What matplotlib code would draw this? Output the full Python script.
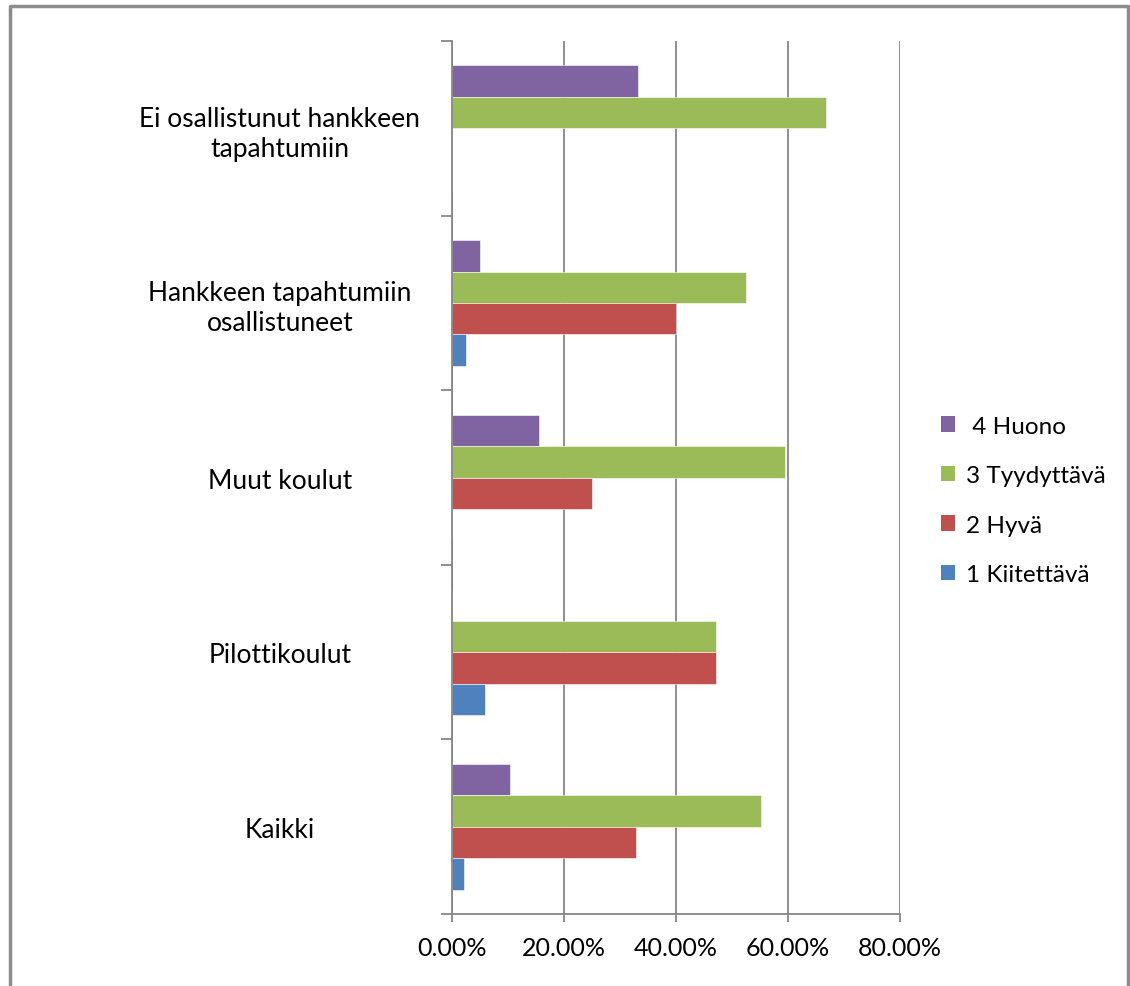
import numpy as np
import matplotlib.pyplot as plt
from matplotlib.patches import Patch

plt.rcParams['font.family'] = ['Lato', 'DejaVu Sans']

# Categories, from bottom to top
categories = ['Kaikki', 'Pilottikoulut', 'Muut koulut',
              'Hankkeen tapahtumiin\nosallistuneet',
              'Ei osallistunut hankkeen\ntapahtumiin']

# Shares in percent for each grade
kiitettava = [2.1, 5.9, 0.0, 2.5, 0.0]
hyva = [32.8, 47.1, 25.0, 40.0, 0.0]
tyydyttava = [55.2, 47.1, 59.4, 52.5, 66.7]
huono = [10.3, 0.0, 15.6, 5.0, 33.3]

series = [
    (' 4 Huono', huono, '#8064A2'),
    ('3 Tyydyttävä', tyydyttava, '#9BBB59'),
    ('2 Hyvä', hyva, '#C0504D'),
    ('1 Kiitettävä', kiitettava, '#4F81BD'),
]

fig = plt.figure(figsize=(11.30, 9.87), dpi=100)
ax = fig.add_axes([0.4, 0.0729, 0.3965, 0.8845])

y = np.arange(len(categories))
h = 0.18
offsets = [1.5 * h, 0.5 * h, -0.5 * h, -1.5 * h]
for (name, vals, col), off in zip(series, offsets):
    ax.barh(y + off, vals, height=h, color=col, edgecolor='white', linewidth=0.4, zorder=3)

ax.set_xlim(0, 80)
ax.set_ylim(-0.5, len(categories) - 0.5)

grid_col = '#868686'
ax.set_xticks([0, 20, 40, 60, 80])
ax.set_xticklabels(['0.00%', '20.00%', '40.00%', '60.00%', '80.00%'], fontsize=18)
ax.xaxis.grid(True, color=grid_col, linewidth=1.3, zorder=0)
ax.tick_params(axis='x', direction='out', length=6, width=1.3, color=grid_col, pad=10)

ax.set_yticks(y)
ax.set_yticklabels(categories, fontsize=19, ha='center', multialignment='center',
                   linespacing=1.25)
ax.set_yticks(np.arange(-0.5, len(categories)), minor=True)
ax.tick_params(axis='y', which='major', length=0, pad=124)
ax.tick_params(axis='y', which='minor', direction='out', length=8, width=1.3, color=grid_col)

for s in ['top', 'right']:
    ax.spines[s].set_visible(False)
for s in ['left', 'bottom']:
    ax.spines[s].set_color(grid_col)
    ax.spines[s].set_linewidth(1.3)
ax.spines['left'].set_zorder(4)

handles = [Patch(facecolor=c, edgecolor='none', label=n) for n, v, c in series]
fig.legend(handles=handles, loc='center left', bbox_to_anchor=(0.824, 0.492),
           frameon=False, fontsize=17.5, handlelength=0.6, handleheight=0.6,
           handletextpad=0.45, labelspacing=1.17, borderaxespad=0)

# outer chart border
fig.add_artist(plt.Line2D([0.0088, 0.0088, 0.998, 0.998], [0.0, 0.993, 0.993, 0.0],
                          transform=fig.transFigure, color='#8c8c8c', linewidth=2.5))

fig.savefig('out.png', dpi=100)
